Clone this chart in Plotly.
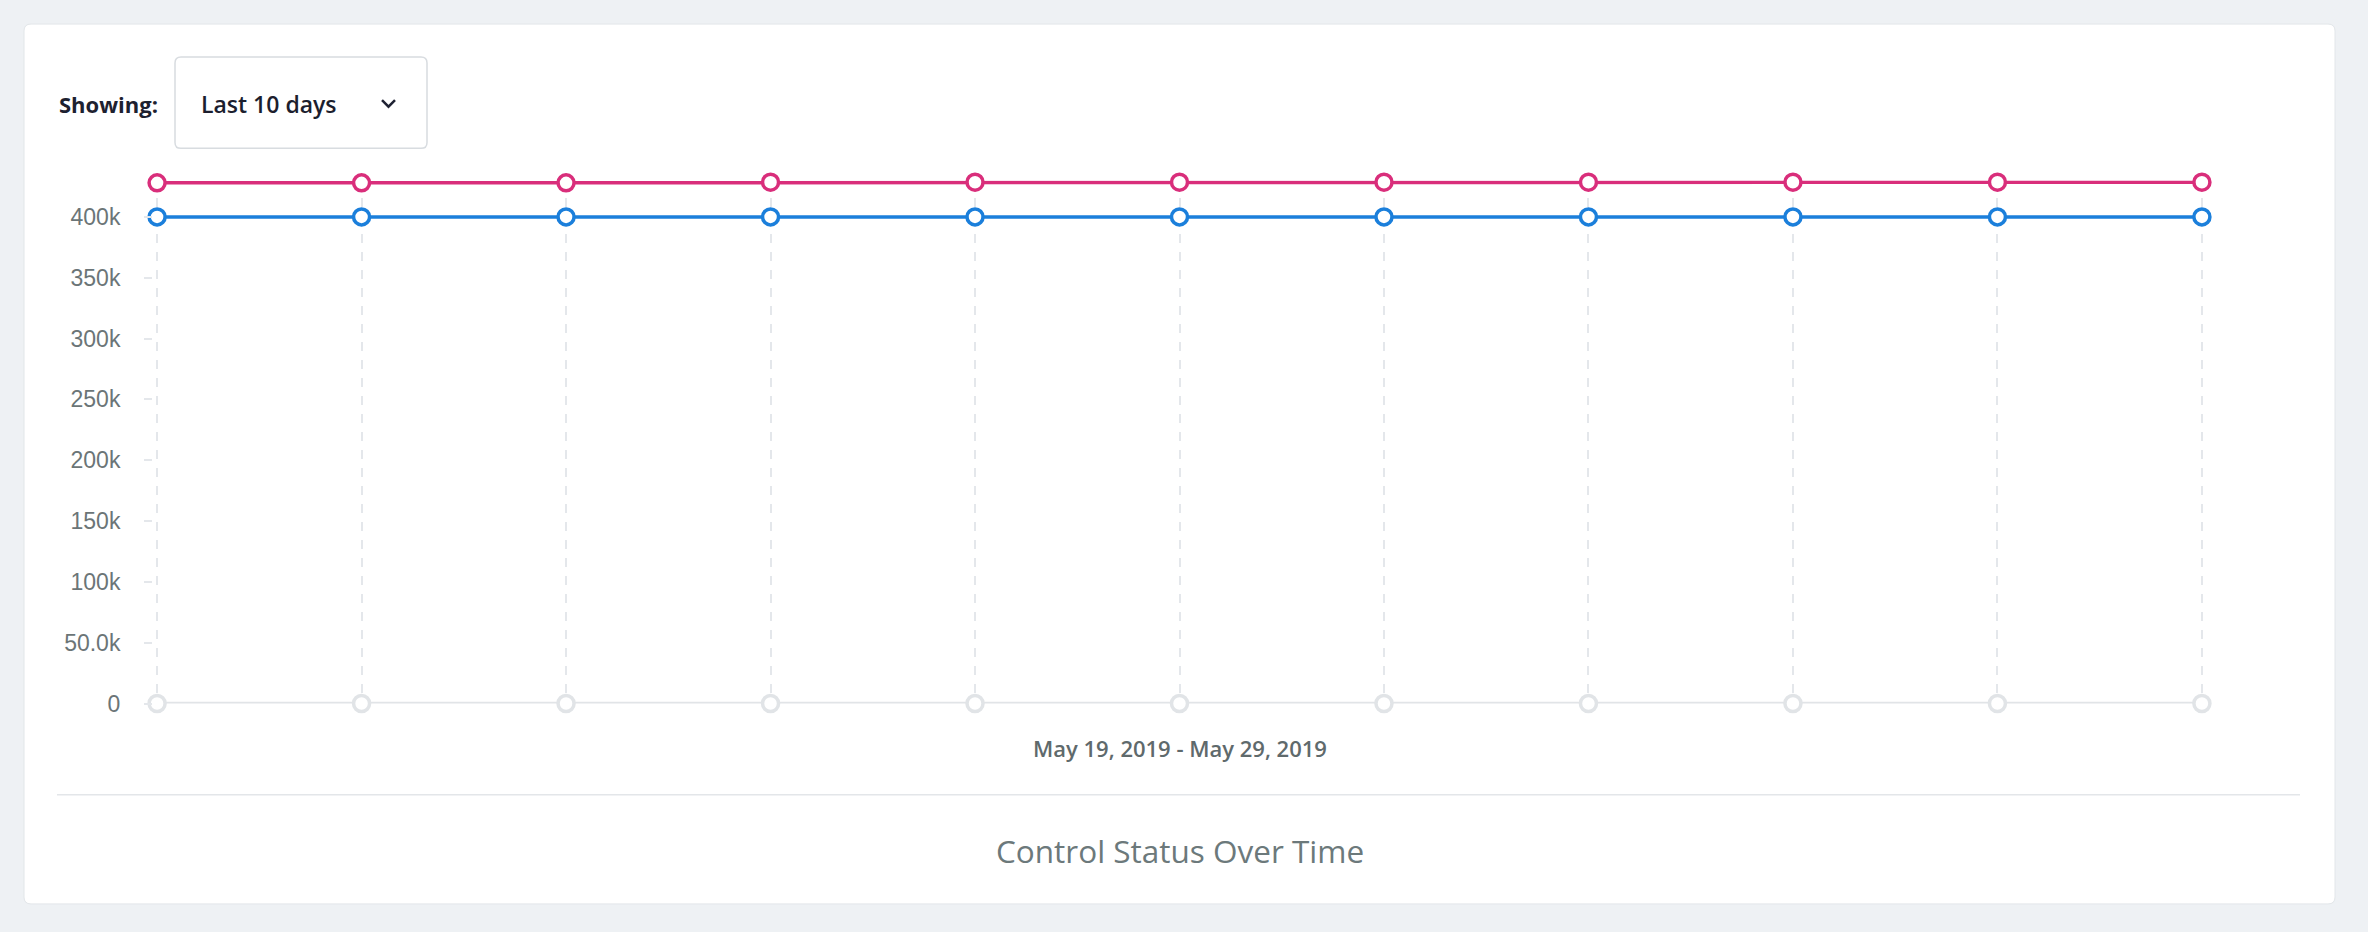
import plotly.graph_objects as go

# ---- data ----
dates = ["2019-05-19", "2019-05-20", "2019-05-21", "2019-05-22", "2019-05-23",
         "2019-05-24", "2019-05-25", "2019-05-26", "2019-05-27", "2019-05-28",
         "2019-05-29"]
series_pink = [428000, 428000, 428000, 428500, 428500, 428500, 428500, 428500, 428500, 428500, 428500]
series_blue = [400000, 400000, 400000, 400000, 400000, 400000, 400000, 400000, 400000, 400000, 400000]
series_gray = [0, 0, 0, 0, 0, 0, 0, 0, 0, 0, 0]
ytick_vals = [0, 50000, 100000, 150000, 200000, 250000, 300000, 350000, 400000]
ytick_text = ["0", "50.0k", "100k", "150k", "200k", "250k", "300k", "350k", "400k"]
range_label = "May 19, 2019 - May 29, 2019"
chart_title = "Control Status Over Time"
showing_label = "Showing:"
dropdown_label = "Last 10 days"

W, H = 2368, 947          # figure size in px
REF_H = 932               # layout reference height (positions below are given in it)
BG = "#eef1f4"
UI_FONT = "Open Sans"


def px(x):
    return x / W


def py(y):
    return 1 - y / REF_H


def rounded_rect(x0, y0, x1, y1, r):
    rx, ry = r / W, r / H
    X0, X1 = px(x0), px(x1)
    Y0, Y1 = py(y0), py(y1)
    return (f"M {X0+rx},{Y0} L {X1-rx},{Y0} Q {X1},{Y0} {X1},{Y0-ry} "
            f"L {X1},{Y1+ry} Q {X1},{Y1} {X1-rx},{Y1} "
            f"L {X0+rx},{Y1} Q {X0},{Y1} {X0},{Y1+ry} "
            f"L {X0},{Y0-ry} Q {X0},{Y0} {X0+rx},{Y0} Z")


fig = go.Figure()

def add_series(vals, color, name):
    fig.add_trace(go.Scatter(
        x=dates, y=vals, mode="lines+markers", name=name,
        line=dict(color=color, width=3.5),
        marker=dict(symbol="circle", size=16, color="white",
                    line=dict(color=color, width=3.5)),
        cliponaxis=False, showlegend=False,
    ))

add_series(series_gray, "#e1e4e7", "Unknown")
add_series(series_blue, "#1b7fdb", "Passing")
add_series(series_pink, "#d92e7b", "Failing")

shapes = [
    dict(type="path", xref="paper", yref="paper",
         path=rounded_rect(24, 24, 2335, 902, 7),
         fillcolor="white", line=dict(color="#e2e6e9", width=1), layer="below"),
    dict(type="path", xref="paper", yref="paper",
         path=rounded_rect(175, 57, 427, 148, 6),
         fillcolor="white", line=dict(color="#d8dce0", width=1.5), layer="above"),
    dict(type="path", xref="paper", yref="paper",
         path=f"M {px(382)},{py(100)} L {px(388.5)},{py(106.5)} L {px(395)},{py(100)}",
         line=dict(color="#1f2233", width=2.5)),
    dict(type="line", xref="paper", yref="paper",
         x0=px(57), x1=px(2300), y0=py(793), y1=py(793),
         line=dict(color="#e3e6e9", width=1.5)),
]

annotations = [
    dict(text=showing_label, x=px(57), y=py(104), xref="paper", yref="paper",
         xanchor="left", yanchor="middle", showarrow=False,
         font=dict(family=UI_FONT, size=22, weight=700, color="#1d2130")),
    dict(text=dropdown_label, x=px(199), y=py(104), xref="paper", yref="paper",
         xanchor="left", yanchor="middle", showarrow=False,
         font=dict(family=UI_FONT, size=23, weight=600, color="#1c1e2e")),
    dict(text=range_label, x=px(1180), y=py(746), xref="paper", yref="paper",
         xanchor="center", yanchor="middle", showarrow=False,
         font=dict(family=UI_FONT, size=22, weight=600, color="#5f6a6c")),
    dict(text=chart_title, x=px(1180), y=py(849), xref="paper", yref="paper",
         xanchor="center", yanchor="middle", showarrow=False,
         font=dict(family=UI_FONT, size=31.5, color="#6c797b")),
]

fig.update_layout(
    width=W, height=H,
    margin=dict(l=0, r=0, t=0, b=0),
    paper_bgcolor=BG,
    plot_bgcolor="rgba(0,0,0,0)",
    shapes=shapes,
    annotations=annotations,
    xaxis=dict(
        type="category", domain=[px(153), px(2206)], range=[-0.02, 10.02],
        showticklabels=False, ticks="", showline=False, zeroline=False,
        showgrid=True, gridcolor="#e4e7eb", gridwidth=2, griddash="dash",
        fixedrange=True,
    ),
    yaxis=dict(
        domain=[py(702), py(180)], range=[0, 430000],
        tickvals=ytick_vals, ticktext=ytick_text,
        ticks="outside", ticklen=8, tickwidth=2, tickcolor="#e4e7eb",
        ticklabelstandoff=19,
        tickfont=dict(family="Liberation Sans", size=23, color="#6b7577"),
        showgrid=False, zeroline=False, showline=False, fixedrange=True,
    ),
    hovermode=False,
)

fig.write_html(
    "out.html", config={"displayModeBar": False},
    post_script=(f"document.body.style.margin='0';document.body.style.background='{BG}';"
                 f"document.documentElement.style.background='{BG}';"
                 "document.body.style.overflow='hidden';"),
)
